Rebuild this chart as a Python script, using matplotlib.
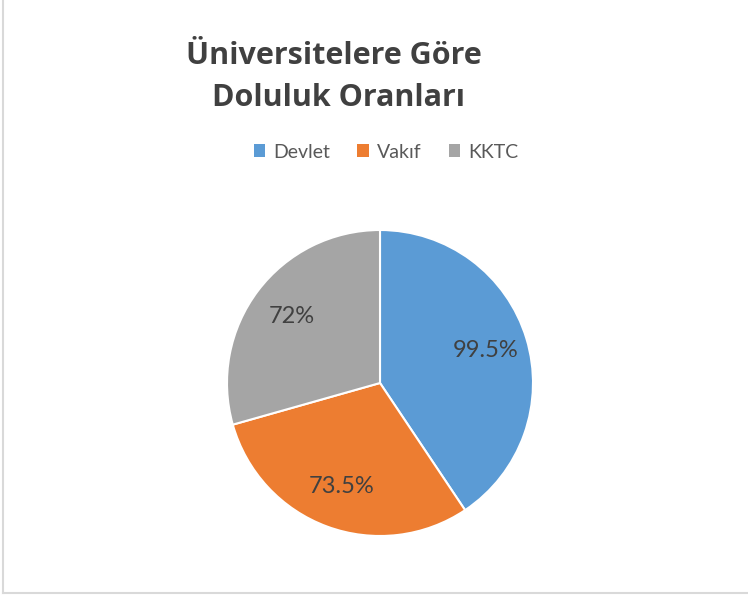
import matplotlib
matplotlib.use("Agg")
import matplotlib.pyplot as plt
from matplotlib.lines import Line2D
from matplotlib.patches import Patch

# Data
categories = ["Devlet", "Vakıf", "KKTC"]
values = [99.5, 73.5, 72]
value_labels = ["99.5%", "73.5%", "72%"]
colors = ["#5B9BD5", "#ED7D31", "#A5A5A5"]
title_lines = ["Üniversitelere Göre", "Doluluk Oranları"]

W, H = 748, 596
plt.rcParams['font.family'] = ['Lato', 'DejaVu Sans']

fig = plt.figure(figsize=(W / 100, H / 100), dpi=100)
fig.patch.set_facecolor("white")

# pie centred at (380, 383) px, radius 153 px
cx, cy, r = 380, 383, 153
ax = fig.add_axes([(cx - r) / W, (H - cy - r) / H, 2 * r / W, 2 * r / H])
wedges, texts = ax.pie(values, colors=colors, startangle=90, counterclock=False,
                       labels=value_labels, labeldistance=0.72,
                       wedgeprops=dict(edgecolor="white", linewidth=1.5),
                       textprops=dict(color="#404040", fontsize=17))
for t in texts:
    t.set_ha("center")
    t.set_va("center")
ax.set_xlim(-1, 1)
ax.set_ylim(-1, 1)
ax.set_aspect("equal")
ax.axis("off")

# title, two lines
title_font = dict(family=["Open Sans", "DejaVu Sans"], fontsize=22,
                  fontweight="bold", color="#404040")
fig.text(334 / W, 1 - 64 / H, title_lines[0], ha="center", va="baseline", **title_font)
fig.text(338 / W, 1 - 106 / H, title_lines[1], ha="center", va="baseline", **title_font)

# legend
handles = [Patch(facecolor=c, edgecolor="none") for c in colors]
fig.legend(handles, categories, loc="center", bbox_to_anchor=(386 / W, 1 - 152 / H),
           ncol=3, frameon=False, fontsize=14, labelcolor="#595959",
           handlelength=0.6, handleheight=0.6, handletextpad=0.4, columnspacing=1.4)

# light frame on the left and bottom edges
fig.add_artist(Line2D([3 / W, 3 / W], [3 / H, 1], color="#D9D9D9", linewidth=1.5))
fig.add_artist(Line2D([3 / W, 1], [3 / H, 3 / H], color="#D9D9D9", linewidth=1.5))

fig.savefig("out.png", dpi=100, facecolor="white")
